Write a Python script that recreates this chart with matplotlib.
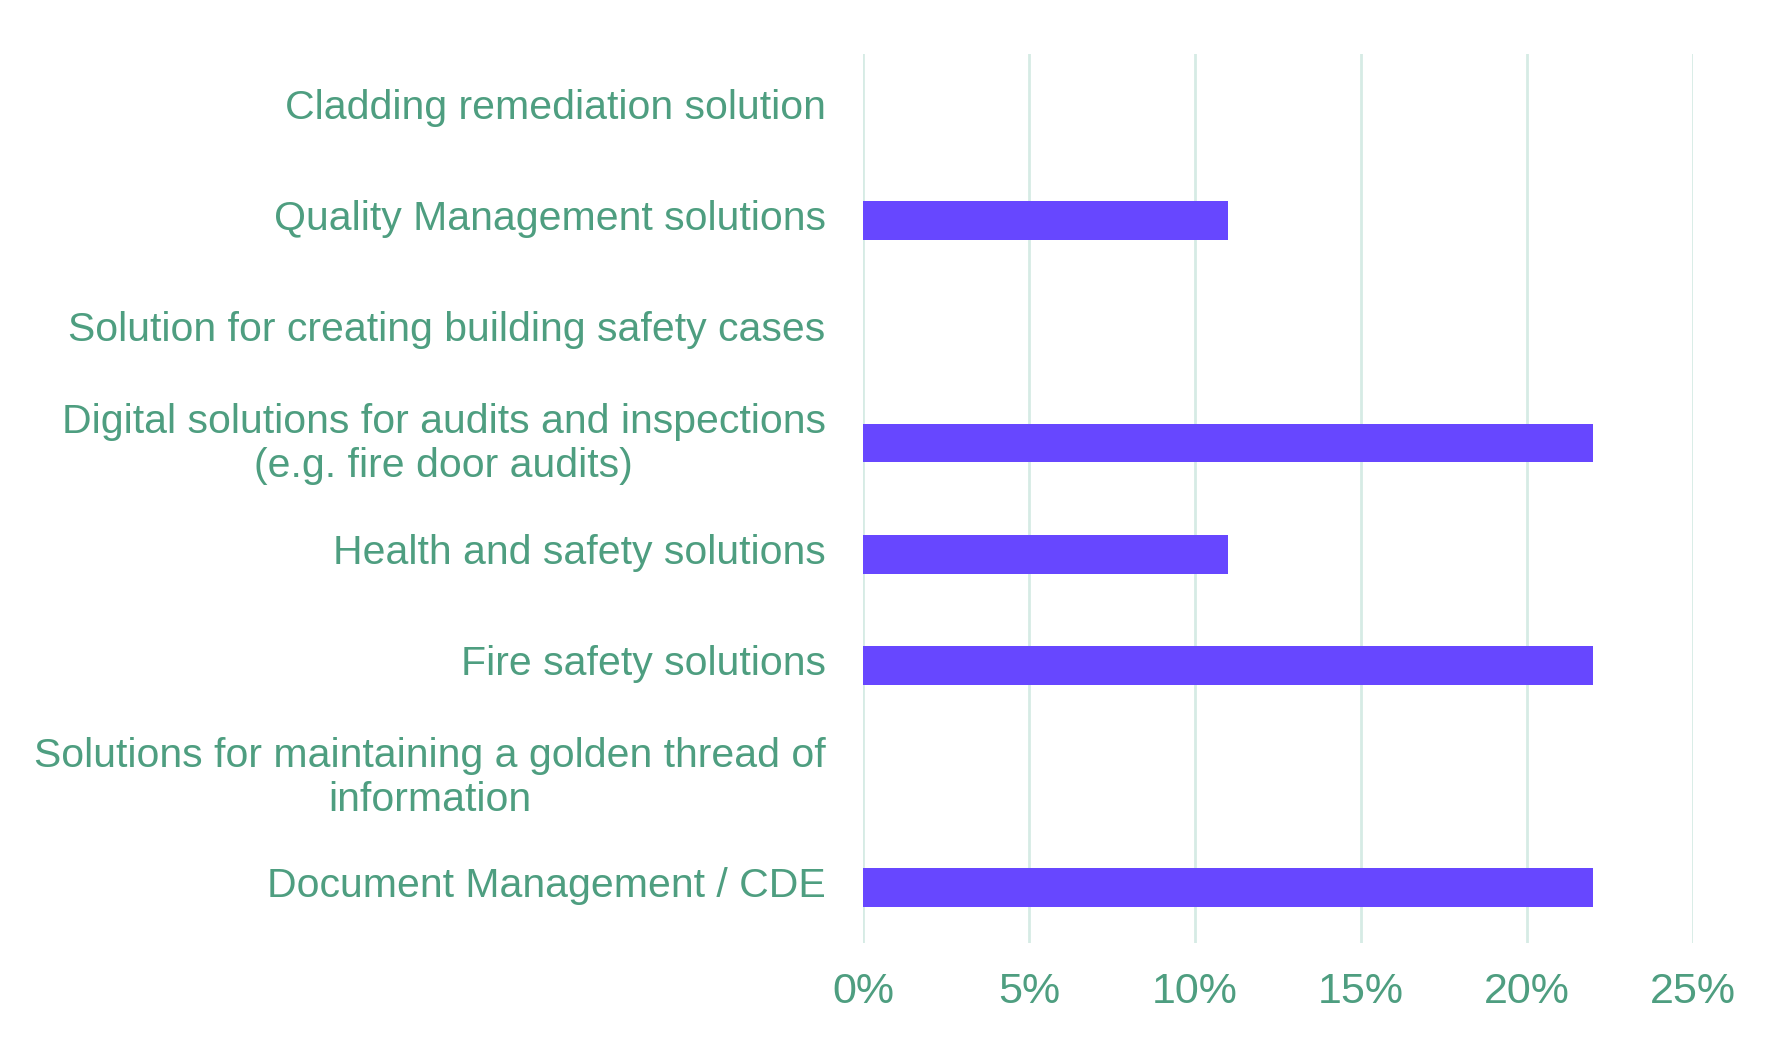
import matplotlib.pyplot as plt
import matplotlib.transforms as mtransforms
from matplotlib.ticker import FuncFormatter

categories = [
    "Document Management / CDE",
    "Solutions for maintaining a golden thread of\ninformation",
    "Fire safety solutions",
    "Health and safety solutions",
    "Digital solutions for audits and inspections\n(e.g. fire door audits)",
    "Solution for creating building safety cases",
    "Quality Management solutions",
    "Cladding remediation solution",
]
values = [22, 0, 22, 11, 22, 0, 11, 0]
xticks = [0, 5, 10, 15, 20, 25]

text_color = "#4E9E80"
bar_color = "#6747FF"
grid_color = "#D6EBE5"

plt.rcParams["font.family"] = ["Liberation Sans", "DejaVu Sans"]

fig = plt.figure(figsize=(17.92, 10.45), dpi=100)
ax = fig.add_axes([0.4816, 0.0976, 0.4632, 0.8507])

ypos = range(len(categories))
ax.barh(ypos, values, height=0.35, color=bar_color, zorder=3)

ax.set_xlim(0, 25)
ax.set_ylim(-0.5, len(categories) - 0.5)
ax.set_xticks(xticks)
ax.xaxis.set_major_formatter(FuncFormatter(lambda v, p: f"{v:.0f}%"))
ax.set_yticks(list(ypos))
ax.set_yticklabels(categories, multialignment="center")

ax.grid(axis="x", color=grid_color, linewidth=2, zorder=0)
for s in ax.spines.values():
    s.set_visible(False)

ax.tick_params(axis="y", length=0, pad=27, labelsize=29.5, labelcolor=text_color)
ax.tick_params(axis="x", length=0, pad=21, labelsize=31, labelcolor=text_color)

# nudge the category labels up a little
shift = mtransforms.ScaledTranslation(0, 4 / 72, fig.dpi_scale_trans)
for lab in ax.get_yticklabels():
    lab.set_transform(lab.get_transform() + shift)

fig.savefig("out.png", dpi=100)
